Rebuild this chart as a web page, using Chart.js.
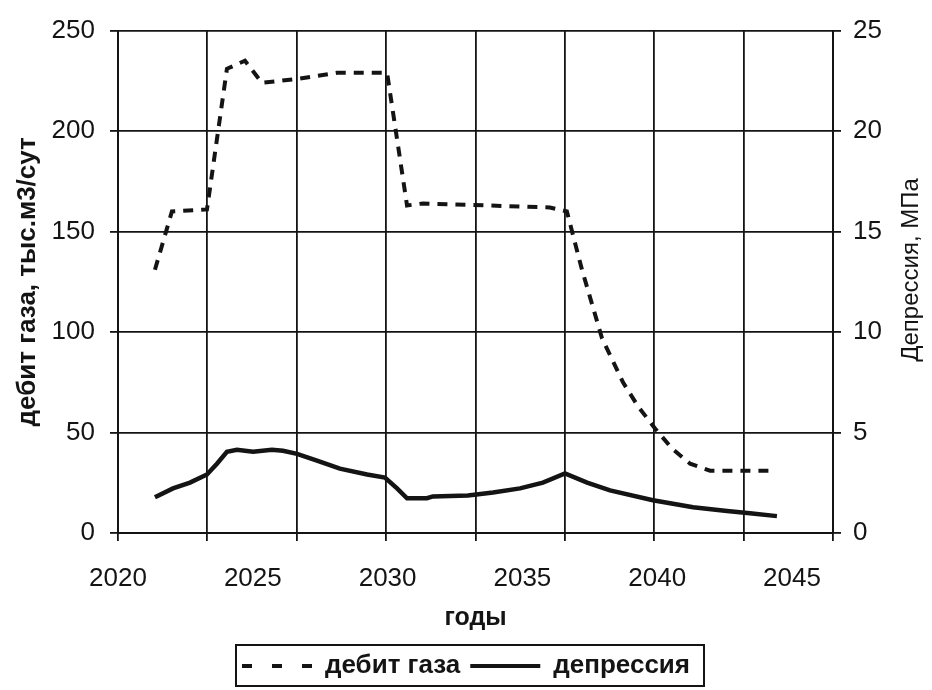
<!DOCTYPE html>
<html>
<head>
<meta charset="utf-8">
<script src="https://cdn.jsdelivr.net/npm/chart.js@4.4.1/dist/chart.umd.min.js"></script>
<style>
html,body{margin:0;padding:0;background:#fff;}
#wrap{width:932px;height:690px;}
</style>
</head>
<body>
<div id="wrap"><canvas id="c" width="932" height="690"></canvas></div>
<script>
// ---- data ----
const gasYears   = [2021.37, 2022.00, 2023.30, 2024.04, 2024.71, 2025.34, 2026.68, 2028.12, 2029.98, 2030.72, 2031.31, 2036.02, 2036.65, 2037.21, 2037.95, 2038.73, 2039.29, 2039.92, 2040.55, 2041.22, 2041.96, 2044.18];
const gasValues  = [131, 160, 161, 231, 235, 224, 226, 229, 229, 163, 164, 162, 160, 131, 97, 75, 63, 52, 42, 34.5, 31, 31];

const depYears   = [2021.37, 2022.04, 2022.67, 2023.30, 2023.67, 2024.04, 2024.41, 2025.01, 2025.71, 2026.12, 2026.64, 2027.38, 2028.23, 2029.24, 2029.90, 2030.35, 2030.72, 2031.46, 2031.68, 2032.98, 2033.91, 2034.91, 2035.76, 2036.58, 2037.40, 2038.25, 2039.84, 2041.33, 2042.59, 2043.44, 2044.44];
const depValues  = [1.78, 2.22, 2.51, 2.91, 3.45, 4.04, 4.14, 4.04, 4.14, 4.09, 3.94, 3.60, 3.20, 2.91, 2.76, 2.22, 1.73, 1.73, 1.82, 1.87, 2.02, 2.22, 2.51, 2.96, 2.51, 2.12, 1.63, 1.28, 1.10, 0.98, 0.84];

const yearTicks  = [2020, 2025, 2030, 2035, 2040, 2045];
const leftTicks  = [0, 50, 100, 150, 200, 250];
const rightTicks = [0, 5, 10, 15, 20, 25];

const seriesNames = ['дебит газа', 'депрессия'];
const xTitle = 'годы';
const leftTitle = 'дебит газа, тыс.м3/сут';
const rightTitle = 'Депрессия, МПа';

const X_MIN = 2020, X_MAX = 2046.52, GRID_DIV = 8;

const INK = '#141414';
Chart.defaults.font.family = "'Liberation Sans', Arial, sans-serif";
Chart.defaults.color = INK;

const rightTitlePlugin = {
  id: 'rightTitle',
  afterDraw(chart) {
    const ctx = chart.ctx;
    ctx.save();
    ctx.font = "24px 'Liberation Sans', Arial, sans-serif";
    ctx.fillStyle = INK;
    ctx.textAlign = 'center';
    ctx.textBaseline = 'middle';
    ctx.translate(911, 270);
    ctx.rotate(-Math.PI / 2);
    ctx.fillText(rightTitle, 0, 0);
    ctx.restore();
  }
};
const legendBoxPlugin = {
  id: 'legendBox',
  afterDraw(chart) {
    const hb = chart.legend && chart.legend.legendHitBoxes;
    if (!hb || !hb.length) return;
    const last = hb[hb.length - 1];
    const left = hb[0].left - 6;
    const right = last.left + last.width + 14;
    const cy = hb[0].top + hb[0].height / 2;
    const ctx = chart.ctx;
    ctx.save();
    ctx.strokeStyle = INK;
    ctx.lineWidth = 2;
    ctx.strokeRect(left, cy - 21, right - left, 41);
    ctx.restore();
  }
};

new Chart(document.getElementById('c'), {
  type: 'line',
  data: {
    datasets: [
      {
        label: seriesNames[0],
        data: gasYears.map((x, i) => ({x, y: gasValues[i]})),
        xAxisID: 'x', yAxisID: 'y',
        borderColor: INK, borderWidth: 4, borderDash: [10, 8],
        pointRadius: 0, tension: 0, fill: false
      },
      {
        label: seriesNames[1],
        data: depYears.map((x, i) => ({x, y: depValues[i]})),
        xAxisID: 'x', yAxisID: 'y1',
        borderColor: INK, borderWidth: 4.5,
        pointRadius: 0, tension: 0, fill: false
      }
    ]
  },
  options: {
    responsive: false,
    animation: false,
    events: [],
    layout: { padding: { top: 26, bottom: 1, left: 0, right: 0 } },
    plugins: {
      tooltip: { enabled: false },
      legend: {
        position: 'bottom',
        labels: {
          usePointStyle: true,
          pointStyle: 'line',
          pointStyleWidth: 70,
          padding: 10,
          color: INK,
          font: { size: 26, weight: 'bold' },
          generateLabels(chart) {
            const items = Chart.defaults.plugins.legend.labels.generateLabels(chart);
            items.forEach(it => { it.pointStyle = 'line'; it.lineWidth = 4; });
            items[0].lineDash = [10, 20];
            return items;
          }
        }
      }
    },
    scales: {
      xg: {
        type: 'linear', position: 'bottom', min: X_MIN, max: X_MAX,
        afterBuildTicks(s) {
          const t = [];
          for (let k = 0; k <= GRID_DIV; k++) t.push({ value: X_MIN + k * (X_MAX - X_MIN) / GRID_DIV });
          s.ticks = t;
        },
        ticks: { display: false },
        grid: { color: INK, lineWidth: 1.8, tickLength: 8, drawTicks: true },
        border: { display: true, color: INK, width: 2 },
        afterFit(s) { s.height = 8; }
      },
      x: {
        type: 'linear', position: 'bottom', min: X_MIN, max: X_MAX,
        afterBuildTicks(s) { s.ticks = yearTicks.map(v => ({ value: v })); },
        grid: { display: false },
        border: { display: false },
        ticks: { font: { size: 26 }, padding: 14, maxRotation: 0, autoSkip: false, color: INK, callback: v => String(v) },
        title: { display: true, text: xTitle, color: INK, font: { size: 25, weight: 'bold' }, padding: { top: 0, bottom: 10 } },
        afterFit(s) { s.height = 102; }
      },
      y: {
        position: 'left', min: 0, max: 250,
        afterBuildTicks(s) { s.ticks = leftTicks.map(v => ({ value: v })); },
        ticks: { font: { size: 26 }, padding: 15, color: INK },
        grid: { color: INK, lineWidth: 1.8, tickLength: 8 },
        border: { color: INK, width: 2 },
        title: { display: true, text: leftTitle, color: INK, font: { size: 26, weight: 'bold' }, padding: { top: 12, bottom: 0 } },
        afterFit(s) { s.width = 118; }
      },
      y1: {
        position: 'right', min: 0, max: 25,
        afterBuildTicks(s) { s.ticks = rightTicks.map(v => ({ value: v })); },
        ticks: { font: { size: 26 }, padding: 12, color: INK },
        grid: { drawOnChartArea: false, color: INK, lineWidth: 1.8, tickLength: 8 },
        border: { color: INK, width: 2 },
        afterFit(s) { s.width = 99; }
      }
    }
  },
  plugins: [rightTitlePlugin, legendBoxPlugin]
});
</script>
</body>
</html>
